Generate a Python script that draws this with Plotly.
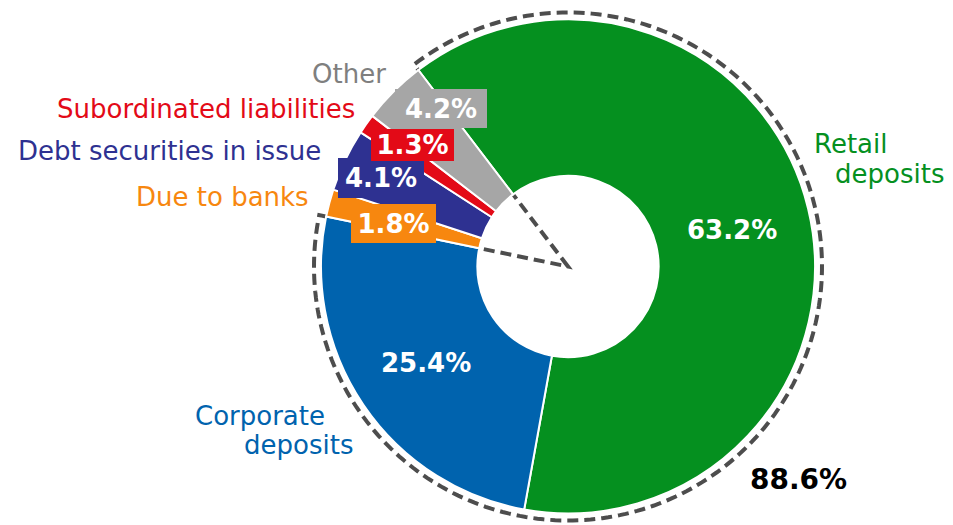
import numpy as np
import plotly.graph_objects as go

# Funding structure, share of total liabilities (%)
categories = ["Retail deposits", "Corporate deposits", "Due to banks",
              "Debt securities in issue", "Subordinated liabilities", "Other"]
shares = [63.2, 25.4, 1.8, 4.1, 1.3, 4.2]
slice_colors = ["#05901f", "#0063ae", "#f7870f", "#2e3191", "#e30a17", "#a6a6a6"]
label_colors = ["#05901f", "#0063ae", "#f7870f", "#2e3191", "#e30a17", "#7f7f7f"]

# customer deposits = retail + corporate
deposit_share = round(shares[0] + shares[1], 1)

# ---- geometry (pixels) ----
W, H = 953, 525
CX, CY = 568.0, 266.5
R = 247.0
HOLE = 0.367
R_OUTLINE = 254.0
START = -37.3          # first slice begins this many degrees from 12 o'clock
FONT = "DejaVu Sans"


def to_paper(x, y):
    return x / W, 1 - y / H


def polar(theta_deg, r):
    t = np.radians(theta_deg)
    return CX + r * np.sin(t), CY - r * np.cos(t)


fig = go.Figure()
fig.add_trace(go.Pie(
    labels=categories,
    values=shares,
    sort=False,
    direction="clockwise",
    rotation=START,
    hole=HOLE,
    marker=dict(colors=slice_colors, line=dict(color="white", width=2)),
    textinfo="none",
    hoverinfo="label+percent",
    domain=dict(x=[(CX - R) / W, (CX + R) / W],
                y=[1 - (CY + R) / H, 1 - (CY - R) / H]),
))

# dashed outline around the deposit slices
a0 = START
a1 = START + 360 * deposit_share / 100
arc = [polar(a, R_OUTLINE) for a in np.linspace(a0, a1, 240)]
pts = [(CX, CY)] + arc
path = "M " + " L ".join(f"{to_paper(x, y)[0]:.5f},{to_paper(x, y)[1]:.5f}" for x, y in pts) + " Z"
fig.add_shape(type="path", path=path, xref="paper", yref="paper", layer="below",
              line=dict(color="#4d4d4d", width=4, dash="11px,6px"),
              fillcolor="rgba(0,0,0,0)")

annotations = []


def note(text, x, y, color, size=26, bold=False, xanchor="center", **kw):
    px, py = to_paper(x, y)
    annotations.append(dict(
        text=f"<b>{text}</b>" if bold else text,
        x=px, y=py, xref="paper", yref="paper",
        xanchor=xanchor, yanchor="middle", showarrow=False,
        font=dict(family=FONT, size=size, color=color), **kw))


def pct(v):
    return f"{v:.1f}%"


# category names
note("Retail", 812, 144, label_colors[0], xanchor="left")
note("deposits", 833, 174, label_colors[0], xanchor="left")
note("Corporate", 193, 416, label_colors[1], xanchor="left")
note("deposits", 242, 445, label_colors[1], xanchor="left")
note("Due to banks", 311, 197, label_colors[2], xanchor="right")
note("Debt securities in issue", 323, 151, label_colors[3], xanchor="right")
note("Subordinated liabilities", 357, 109, label_colors[4], xanchor="right")
note("Other", 388, 74, label_colors[5], xanchor="right")

# values inside the large slices
note(pct(shares[0]), 732, 230, "white", bold=True)
note(pct(shares[1]), 425.5, 362.5, "white", bold=True)

# values of the small slices in coloured boxes
box_kw = dict(borderpad=0, borderwidth=0)
note(pct(shares[3]), 381, 178, "white", bold=True, bgcolor=slice_colors[3], width=86, height=40, **box_kw)
note(pct(shares[2]), 393.5, 223.5, "white", bold=True, bgcolor=slice_colors[2], width=85, height=39, **box_kw)
note(pct(shares[4]), 412.5, 145, "white", bold=True, bgcolor=slice_colors[4], width=83, height=32, **box_kw)
note(pct(shares[5]), 441, 108.5, "white", bold=True, bgcolor=slice_colors[5], width=92, height=39, **box_kw)

# total of customer deposits
note(pct(deposit_share), 798, 479, "black", size=28, bold=True)

fig.update_layout(
    width=W, height=H,
    margin=dict(l=0, r=0, t=0, b=0),
    paper_bgcolor="white",
    plot_bgcolor="white",
    showlegend=False,
    annotations=annotations,
)

fig.write_html("out.html")
